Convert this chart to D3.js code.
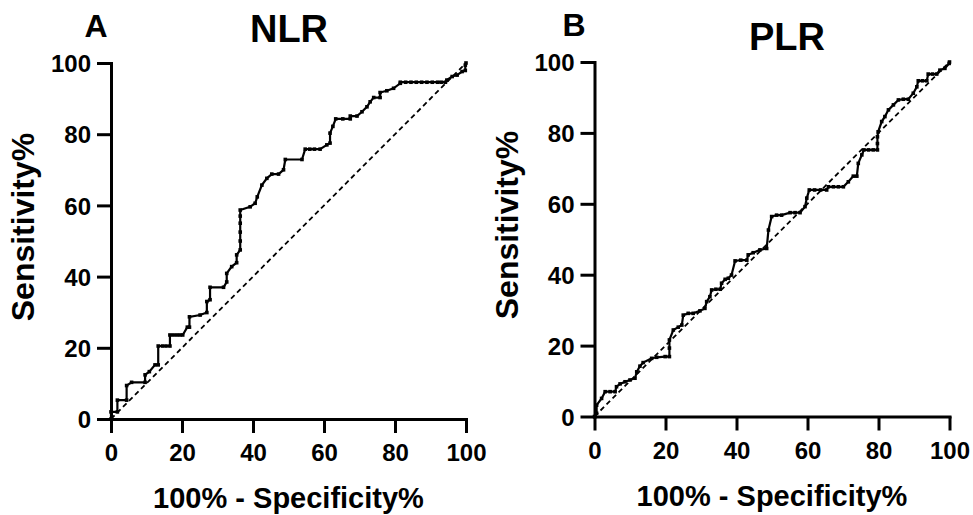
<!DOCTYPE html>
<html>
<head>
<meta charset="utf-8">
<script src="https://cdn.jsdelivr.net/npm/d3@7"></script>
<style>
  body { margin: 0; background: #fff; }
  svg text { font-family: "Liberation Sans", Arial, sans-serif; font-weight: bold; fill: #000; }
</style>
</head>
<body>
<div id="chart"></div>
<script>
// ROC points: [100% - specificity%, sensitivity%]
var nlrPoints = [
  [0,0],[0,2],[1.8,2],[1.8,5.3],[4.4,5.3],[4.4,9.4],[5.8,10.3],[9.6,10.3],[9.6,12.4],[10.8,13.3],
  [12.4,15.2],[13.3,15.2],[13.3,20.5],[14.5,20.5],[15.5,20.5],[16.6,20.5],[16.6,23.6],[17.5,23.6],[18.5,23.6],[19.4,23.6],
  [20.2,23.6],[21.5,25.8],[22.1,25.8],[22.1,28.7],[25.1,29.2],[27,29.9],[27,33],[27.9,33.5],[27.9,37],[31.7,37],
  [32.6,38.5],[32.6,40.9],[34,42.8],[35.4,43.9],[35.4,46.1],[36.4,47.5],[36.4,50],[36.4,52.5],[36.4,55],[36.4,57],
  [36.4,58.7],[39.2,59.6],[40.6,60.6],[41.2,62.4],[42.5,65.7],[43.9,67.6],[45.3,68.8],[47.2,68.8],[48.6,70],[49.1,72.9],
  [53.8,72.9],[54.7,75.8],[56,75.8],[57.3,75.8],[58.9,75.8],[60.8,77],[61.7,77.5],[61.7,80.3],[62.5,82.2],[63.3,84.3],
  [65.3,84.3],[67.4,84.3],[67.4,85.1],[69.3,85.1],[70.7,86.3],[72.1,87.7],[73,89.1],[74,90.3],[75.8,90.3],[75.8,91.7],
  [77.7,92.2],[79.6,92.9],[81.5,94.3],[81.5,94.6],[83,94.6],[84.5,94.6],[86,94.6],[87.5,94.6],[89,94.6],[90.5,94.6],
  [92,94.6],[93,94.6],[94.2,94.6],[94.6,95.2],[96.1,96.2],[97.5,96.6],[98.9,97.6],[99.8,97.9],[99.8,99.4],[100,100]
];

var plrPoints = [
  [0,0],[0.6,0.9],[0.6,3.2],[2,5.1],[3,7],[4.4,7],[5.8,7],[6.2,8.4],[7.2,9.2],[8.6,9.8],
  [10,10.3],[11.4,10.8],[11.9,12.6],[12.8,14.2],[13.7,15.2],[16.1,16.4],[17.5,16.7],[19.9,16.9],[21.1,16.9],[21.1,19.3],
  [21.1,21.6],[22.2,24.4],[23.6,25.2],[24.6,25.8],[25,28.6],[26.4,29.1],[27.8,29.1],[29.7,29.8],[31.1,30.5],[31.6,32.4],
  [32.5,33.8],[33,35.7],[34.2,35.9],[35.4,35.9],[35.8,37.6],[36.8,38.7],[37.7,39],[38.6,39.9],[39.6,43.9],[41.2,44.1],
  [42.9,44.1],[43.3,45.6],[44.7,46.2],[46.6,47],[48.5,47.4],[49,52.6],[49.9,56.4],[51.3,56.8],[52.7,56.8],[55.1,57.5],
  [56.5,57.5],[57.9,57.5],[59.3,59.2],[59.8,61.6],[60.5,63.9],[62,63.9],[63.7,63.9],[65.4,63.9],[65.9,64.8],[67.3,64.8],
  [68.7,64.8],[70.1,64.8],[71.5,66.2],[72.9,67.8],[73.9,67.8],[74.3,71.4],[75.3,73.8],[75.9,75.2],[77.2,75.2],[78.5,75.2],
  [79.7,75.2],[79.7,77],[79.7,78.9],[79.9,80.3],[80.9,83.2],[81.8,84.6],[82.8,86.5],[84.2,87.9],[85.6,89.3],[87,89.5],
  [88.4,89.5],[89.8,91.2],[90.8,93],[91.2,94.7],[92.4,94.7],[93.6,94.7],[94,96.6],[95.2,96.6],[96.4,96.6],[97.3,97.7],
  [98.7,98.2],[99.9,99.6],[100,100]
];

var tickValues = [0, 20, 40, 60, 80, 100];
var xTitle = '100% - Specificity%';
var yTitle = 'Sensitivity%';

var svg = d3.select('#chart').append('svg')
  .attr('width', 973)
  .attr('height', 515);

function drawPanel(opts) {
  var x = d3.scaleLinear().domain([0, 100]).range([opts.left, opts.right]);
  var y = d3.scaleLinear().domain([0, 100]).range([opts.bottom, opts.top]);
  var g = svg.append('g');

  //reference diagonal
  g.append('line')
    .attr('x1', x(0)).attr('y1', y(0))
    .attr('x2', x(100)).attr('y2', y(100))
    .attr('stroke', '#000')
    .attr('stroke-width', 1.8)
    .attr('stroke-dasharray', '5,3.5');

  //roc curve
  var line = d3.line()
    .x(function(d) { return x(d[0]); })
    .y(function(d) { return y(d[1]); });

  g.append('path')
    .datum(opts.data)
    .attr('fill', 'none')
    .attr('stroke', '#000')
    .attr('stroke-width', 2.2)
    .attr('d', line);

  g.selectAll('.dot')
    .data(opts.data)
    .enter().append('rect')
      .attr('class', 'dot')
      .attr('x', function(d) { return x(d[0]) - 1.8; })
      .attr('y', function(d) { return y(d[1]) - 1.8; })
      .attr('width', 3.6)
      .attr('height', 3.6)
      .attr('fill', '#000');

  //axes
  var xAxis = g.append('g')
    .attr('transform', 'translate(0,' + opts.bottom + ')')
    .call(d3.axisBottom(x).tickValues(tickValues).tickSize(14).tickSizeOuter(0).tickPadding(11));
  var yAxis = g.append('g')
    .attr('transform', 'translate(' + opts.left + ',0)')
    .call(d3.axisLeft(y).tickValues(tickValues).tickSize(14).tickSizeOuter(0).tickPadding(6));

  [xAxis, yAxis].forEach(function(a) {
    a.select('.domain').attr('stroke-width', 3).attr('stroke-linecap', 'square');
    a.selectAll('.tick line').attr('stroke-width', 3);
    a.selectAll('.tick text')
      .style('font-size', '24px')
      .style('font-family', '"Liberation Sans", Arial, sans-serif')
      .style('font-weight', 'bold')
      .attr('fill', '#000');
  });
  yAxis.selectAll('.tick text').attr('dy', '0.36em');
  xAxis.selectAll('.tick text').attr('dy', '0.71em');

  //titles
  svg.append('text')
    .attr('x', opts.letterX).attr('y', opts.letterY)
    .attr('text-anchor', 'middle')
    .style('font-size', '32px')
    .text(opts.letter);

  svg.append('text')
    .attr('x', opts.titleX).attr('y', opts.titleY)
    .attr('text-anchor', 'middle')
    .style('font-size', '38px')
    .text(opts.title);

  svg.append('text')
    .attr('x', (opts.left + opts.right) / 2).attr('y', opts.bottom + 89)
    .attr('text-anchor', 'middle')
    .style('font-size', '29px')
    .text(xTitle);

  svg.append('text')
    .attr('transform', 'translate(' + opts.yTitleX + ',' + opts.yTitleY + ') rotate(-90)')
    .attr('text-anchor', 'middle')
    .style('font-size', '32px')
    .text(yTitle);
}

drawPanel({
  data: nlrPoints, left: 111, right: 466, top: 63, bottom: 419,
  letter: 'A', letterX: 96, letterY: 37,
  title: 'NLR', titleX: 289, titleY: 42,
  yTitleX: 34, yTitleY: 227
});

drawPanel({
  data: plrPoints, left: 594.5, right: 949.5, top: 62, bottom: 416.5,
  letter: 'B', letterX: 574, letterY: 36,
  title: 'PLR', titleX: 787, titleY: 50,
  yTitleX: 518, yTitleY: 225
});
</script>
</body>
</html>
